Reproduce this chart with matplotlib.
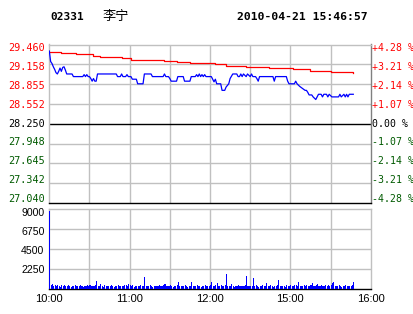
import matplotlib
matplotlib.use('Agg')
import matplotlib.pyplot as plt
from matplotlib.transforms import offset_copy

code = '02331'
name = '李宁'
stamp = '2010-04-21 15:46:57'
prev_close = 28.250

price_ticks = [29.460, 29.158, 28.855, 28.552, 28.250, 27.948, 27.645, 27.342, 27.040]
pct_labels = ['+4.28 %', '+3.21 %', '+2.14 %', '+1.07 %', '0.00 %',
              '-1.07 %', '-2.14 %', '-3.21 %', '-4.28 %']
vol_ticks = [9000, 6750, 4500, 2250]
time_ticks = [0, 60, 120, 180, 240]
time_labels = ['10:00', '11:00', '12:00', '15:00', '16:00']

# minutes since open (lunch break removed) and last price
price_min = [0, 1, 2, 3, 4, 5, 6, 7, 8, 9, 10, 11, 12, 13, 17, 18, 25, 26, 27, 28,
             29, 30, 31, 32, 33, 34, 35, 36, 50, 51, 53, 54, 55, 57, 58, 59, 61, 62,
             65, 66, 70, 71, 76, 77, 85, 86, 87, 89, 90, 91, 95, 96, 100, 101, 105,
             106, 109, 110, 111, 112, 113, 114, 115, 116, 117, 121, 122, 123, 124,
             125, 128, 129, 131, 132, 134, 135, 137, 140, 141, 142, 143, 144, 145,
             147, 148, 150, 151, 152, 154, 155, 156, 157, 167, 168, 169, 177, 178,
             179, 183, 184, 185, 186, 187, 189, 191, 192, 193, 194, 196, 197, 199,
             200, 201, 203, 204, 205, 207, 208, 209, 211, 216, 217, 218, 220, 221,
             222, 223, 224, 227]
price = [29.36, 29.20, 29.17, 29.12, 29.08, 29.03, 29.01, 29.05, 29.10, 29.05, 29.11,
         29.12, 29.07, 29.01, 29.01, 28.97, 28.97, 29.00, 28.97, 29.00, 28.97, 28.97,
         28.94, 28.90, 28.94, 28.90, 28.90, 29.01, 29.01, 28.97, 28.97, 29.01, 28.97,
         28.97, 29.00, 28.97, 28.97, 28.93, 28.93, 28.86, 28.86, 29.01, 29.01, 28.97,
         28.97, 29.01, 28.97, 28.97, 28.94, 28.90, 28.90, 28.97, 28.97, 28.90, 28.90,
         28.97, 28.97, 29.00, 28.97, 29.01, 28.97, 29.00, 28.97, 29.00, 28.97, 28.97,
         28.93, 28.89, 28.93, 28.86, 28.86, 28.76, 28.76, 28.81, 28.86, 28.94, 29.01,
         29.01, 28.97, 28.97, 29.01, 28.97, 29.01, 28.97, 29.01, 28.97, 29.01, 28.97,
         28.97, 28.94, 28.90, 28.97, 28.97, 28.90, 28.97, 28.97, 28.90, 28.86, 28.86,
         28.90, 28.86, 28.84, 28.82, 28.79, 28.76, 28.76, 28.73, 28.69, 28.69, 28.66,
         28.62, 28.66, 28.70, 28.70, 28.66, 28.70, 28.70, 28.66, 28.70, 28.66, 28.66,
         28.70, 28.66, 28.70, 28.66, 28.70, 28.66, 28.70, 28.70]

avg_min = [0, 9, 20, 33, 38, 54, 61, 71, 86, 95, 105, 124, 132, 147, 164, 182, 195,
           210, 226, 227]
avg_price = [29.35, 29.33, 29.31, 29.29, 29.27, 29.26, 29.23, 29.22, 29.21, 29.19,
             29.18, 29.16, 29.13, 29.12, 29.10, 29.08, 29.06, 29.04, 29.04, 29.03]

volume = [8800, 380, 510, 300, 350, 250, 380, 300, 150, 350, 300, 380, 250, 300, 350, 300, 150, 300, 300, 350,
          300, 250, 300, 350, 300, 150, 300, 300, 350, 300, 400, 300, 250, 300, 350, 850, 300, 250, 510, 300,
          150, 450, 300, 300, 250, 300, 350, 300, 150, 300, 300, 350, 300, 250, 300, 300, 350, 400, 300, 510,
          450, 300, 350, 150, 300, 300, 250, 300, 350, 300, 300, 1300, 300, 250, 300, 350, 300, 150, 300, 300,
          300, 250, 350, 300, 300, 400, 500, 300, 250, 300, 350, 300, 150, 300, 300, 350, 740, 300, 250, 300,
          300, 350, 300, 150, 300, 300, 740, 300, 250, 300, 350, 300, 300, 150, 300, 300, 350, 300, 250, 300,
          350, 740, 300, 300, 400, 600, 300, 250, 350, 300, 300, 400, 1650, 300, 300, 250, 480, 300, 150, 300,
          300, 350, 300, 250, 300, 300, 350, 1420, 300, 300, 250, 300, 1200, 300, 350, 300, 150, 300, 300, 350,
          300, 250, 600, 300, 300, 350, 300, 150, 300, 300, 350, 970, 300, 250, 300, 300, 150, 350, 300, 300,
          450, 300, 250, 350, 400, 300, 740, 300, 250, 300, 350, 300, 400, 300, 300, 450, 600, 300, 250, 350,
          500, 300, 300, 400, 300, 250, 350, 300, 450, 300, 400, 600, 740, 300, 250, 300, 350, 300, 150, 300,
          300, 350, 300, 250, 300, 300, 350, 740]

W, H = 414, 314
GRID = '#c0c0c0'
GREEN = '#005a00'
MONO = 'DejaVu Sans Mono'
SANS = 'Liberation Sans'

fig = plt.figure(figsize=(W / 100, H / 100), dpi=100)
fig.patch.set_facecolor('white')


def px_box(x0, y0, x1, y1):
    return [x0 / W, 1 - y1 / H, (x1 - x0) / W, (y1 - y0) / H]


def fx(x):
    return x / W


def fy(y):
    return 1 - y / H


ax = fig.add_axes(px_box(49.3, 44.5, 370.7, 203))
axv = fig.add_axes(px_box(49.3, 209.3, 370.7, 288.5))

for a in (ax, axv):
    a.set_xlim(0, 240)
    a.set_xticks([])
    a.set_yticks([])
    for x in range(30, 240, 30):
        a.axvline(x, color=GRID, lw=1, zorder=0)
    for s in ('left', 'top', 'right'):
        a.spines[s].set_color(GRID)
        a.spines[s].set_linewidth(1)
    a.spines['bottom'].set_color('black')
    a.spines['bottom'].set_linewidth(1)

# price panel
ax.set_ylim(price_ticks[-1], price_ticks[0])
ax.spines['right'].set_color('#808080')
for t in price_ticks[1:-1]:
    if t == prev_close:
        ax.axhline(t, color='black', lw=1, zorder=1)
    else:
        ax.axhline(t, color=GRID, lw=1, zorder=0)

ax.plot(avg_min, avg_price, color='red', lw=0.9, drawstyle='steps-post', zorder=3)
ax.plot(price_min, price, color='blue', lw=0.9, zorder=4)

# labels are spaced a bit tighter than the grid, as in the original
for i, (t, lab) in enumerate(zip(price_ticks, pct_labels)):
    if t > prev_close:
        c = 'red'
    elif t < prev_close:
        c = GREEN
    else:
        c = 'black'
    y = 47.7 + i * 18.95
    fig.text(fx(44.5), fy(y), '%.3f' % t, ha='right', va='center',
             fontsize=7.3, family=MONO, color=c)
    fig.text(fx(372), fy(y), lab, ha='left', va='center',
             fontsize=7.1, family=MONO, color=c)

# volume panel
axv.set_ylim(0, 9000)
for t in vol_ticks[1:]:
    axv.axhline(t, color=GRID, lw=1, zorder=0)
axv.bar(range(len(volume)), volume, width=0.8, color='blue', align='edge',
        linewidth=0, zorder=3)

for i, t in enumerate(vol_ticks):
    fig.text(fx(44.5), fy(213.3 + i * 18.9), str(t), ha='right', va='center',
             fontsize=7.6, family=SANS, color='black')

tl_tr = offset_copy(axv.get_xaxis_transform(), fig=fig, x=0, y=-11, units='dots')
for t, lab in zip(time_ticks, time_labels):
    axv.text(t, 0, lab, transform=tl_tr, ha='center', va='center',
             fontsize=8, family=SANS, color='black')

# header
fig.text(fx(50), fy(17), code, fontsize=8, family=MONO, weight='bold',
         ha='left', va='center')
fig.text(fx(103), fy(16.5), name, fontsize=9.5, family='Noto Sans CJK SC',
         ha='left', va='center')
fig.text(fx(237), fy(17), stamp, fontsize=8.2, family=MONO, weight='bold',
         ha='left', va='center')

fig.savefig('out.png', dpi=100, facecolor='white')
